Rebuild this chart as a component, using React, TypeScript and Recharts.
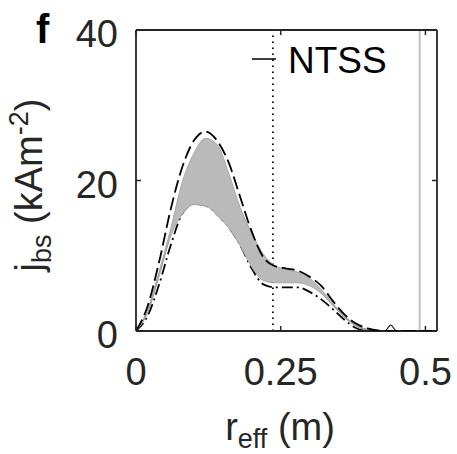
import {
    ComposedChart,
    Area,
    Line,
    XAxis,
    YAxis,
    ReferenceLine,
    Legend,
} from 'recharts'

// r_eff (m) sample points
const rEff = [0, 0.02, 0.04, 0.06, 0.08, 0.1, 0.12, 0.14, 0.16, 0.18, 0.2, 0.22, 0.24, 0.26, 0.28, 0.3, 0.32, 0.34, 0.36, 0.38, 0.4, 0.42, 0.43, 0.44, 0.45, 0.46, 0.48, 0.5, 0.52]
// upper dashed profile
const upperDashed = [0, 3.3, 9.2, 16.2, 21.8, 25.3, 26.5, 25.3, 22.4, 17.8, 13.2, 9.8, 8.6, 8.3, 8.0, 7.2, 6.0, 4.0, 2.2, 1.0, 0.35, 0.05, 0, 0, 0, 0, 0, 0, 0]
// lower dash-dot profile
const lowerDashDot = [0, 2.0, 6.2, 11.4, 15.6, 16.9, 16.7, 15.5, 13.8, 11.4, 8.3, 6.2, 5.8, 5.8, 5.8, 5.2, 4.2, 2.9, 1.5, 0.4, 0, 0, 0, 0, 0, 0, 0, 0, 0]
// grey spread of profiles
const bandLow = [0, 2.4, 7.3, 12.6, 15.5, 16.8, 16.6, 15.4, 13.7, 11.3, 8.5, 6.7, 6.4, 6.4, 6.4, 6.0, 5.0, 3.4, 1.8, 0.7, 0.15, 0, 0, 0, 0, 0, 0, 0, 0]
const bandHigh = [0, 2.8, 7.9, 13.6, 19.8, 23.6, 25.6, 24.8, 21.0, 16.4, 13.0, 10.2, 8.7, 8.2, 7.8, 7.0, 5.5, 3.7, 2.0, 0.8, 0.2, 0, 0, 0, 0, 0, 0, 0, 0]
// NTSS (solid)
const ntss = [0, 2.6, 7.6, 13.0, 17.5, 20.0, 21.0, 20.0, 17.5, 14.0, 10.5, 8.2, 7.3, 7.1, 7.0, 6.4, 5.2, 3.5, 1.9, 0.75, 0.15, 0, 0, 0.8, 0, 0, 0, 0, 0]

const xTicks = [0, 0.25, 0.5]
const yTicks = [0, 20, 40]
const xDomain = [0, 0.52]
const yDomain = [0, 40]
const separatrixR = 0.2365
const edgeR = 0.49

const data = rEff.map((r, i) => ({
    r,
    dashed: upperDashed[i],
    dashdot: lowerDashDot[i],
    band: [bandLow[i], bandHigh[i]],
    ntss: ntss[i],
}))

const FONT = '"Liberation Sans", Arial, Helvetica, sans-serif'
const INK = '#262626'

function BottomTick(props: any) {
    const { x, y, payload } = props
    return (
        <g>
            <line x1={x} y1={y} x2={x} y2={y - 5} stroke={INK} strokeWidth={1.5} />
            <text x={x} y={y + 54} textAnchor="middle" fontSize={38} fill={INK} fontFamily={FONT}>
                {payload.value}
            </text>
        </g>
    )
}

function TopTick(props: any) {
    const { x, y } = props
    return <line x1={x} y1={y} x2={x} y2={y + 5} stroke={INK} strokeWidth={1.5} />
}

function LeftTick(props: any) {
    const { x, y, payload } = props
    return (
        <g>
            <line x1={x} y1={y} x2={x + 5} y2={y} stroke={INK} strokeWidth={1.5} />
            <text x={x - 18} y={y + 17} textAnchor="end" fontSize={38} fill={INK} fontFamily={FONT}>
                {payload.value}
            </text>
        </g>
    )
}

function RightTick(props: any) {
    const { x, y } = props
    return <line x1={x} y1={y} x2={x - 5} y2={y} stroke={INK} strokeWidth={1.5} />
}

function YLabel() {
    return (
        <g fontFamily={FONT} fill={INK}>
            <text x={36} y={43} fontSize={40} fontWeight="bold" fill="#000">f</text>
            <text x={42} y={185} transform="rotate(-90, 42, 185)" textAnchor="middle" fontSize={38}>
                <tspan>j</tspan>
                <tspan dy={9} fontSize={27}>bs</tspan>
                <tspan dy={-9}> (kAm</tspan>
                <tspan dy={-14} fontSize={27}>-2</tspan>
                <tspan dy={14}>)</tspan>
            </text>
        </g>
    )
}

function XLabel() {
    return (
        <text x={280} y={440} textAnchor="middle" fontSize={38} fill={INK} fontFamily={FONT}>
            <tspan>r</tspan>
            <tspan dy={8} fontSize={27}>eff</tspan>
            <tspan dy={-8}> (m)</tspan>
        </text>
    )
}

function LegendBox() {
    return (
        <svg width={150} height={44}>
            <line x1={2} x2={26} y1={21} y2={21} stroke="#000" strokeWidth={1.5} />
            <text x={38} y={35} fontSize={37} fill="#000" fontFamily={FONT}>NTSS</text>
        </svg>
    )
}

export default function App() {
    return (
        <div style={{ position: 'absolute', left: 0, top: 0, background: '#fff' }}>
            <ComposedChart
                width={457}
                height={454}
                data={data}
                margin={{ top: 29, right: 19, left: 135, bottom: 122 }}
            >
                <XAxis
                    dataKey="r"
                    type="number"
                    domain={xDomain}
                    ticks={xTicks}
                    allowDataOverflow
                    height={1}
                    tickSize={0}
                    tickMargin={0}
                    tickLine={false}
                    tick={<BottomTick />}
                    axisLine={{ stroke: INK, strokeWidth: 1.8 }}
                    label={<XLabel />}
                />
                <XAxis
                    xAxisId="top"
                    orientation="top"
                    dataKey="r"
                    type="number"
                    domain={xDomain}
                    ticks={xTicks}
                    allowDataOverflow
                    height={1}
                    tickSize={0}
                    tickMargin={0}
                    tickLine={false}
                    tick={<TopTick />}
                    axisLine={{ stroke: INK, strokeWidth: 1.8 }}
                />
                <YAxis
                    type="number"
                    domain={yDomain}
                    ticks={yTicks}
                    allowDataOverflow
                    width={1}
                    tickSize={0}
                    tickMargin={0}
                    tickLine={false}
                    tick={<LeftTick />}
                    axisLine={{ stroke: INK, strokeWidth: 1.8 }}
                    label={<YLabel />}
                />
                <YAxis
                    yAxisId="right"
                    orientation="right"
                    type="number"
                    domain={yDomain}
                    ticks={yTicks}
                    allowDataOverflow
                    width={1}
                    tickSize={0}
                    tickMargin={0}
                    tickLine={false}
                    tick={<RightTick />}
                    axisLine={{ stroke: INK, strokeWidth: 1.8 }}
                />
                <Line
                    type="monotone"
                    dataKey="ntss"
                    stroke="#111"
                    strokeWidth={1.2}
                    dot={false}
                    isAnimationActive={false}
                    legendType="none"
                />
                <Line
                    type="monotone"
                    dataKey="dashdot"
                    stroke="#000"
                    strokeWidth={1.8}
                    strokeDasharray="11 4 2 4"
                    dot={false}
                    isAnimationActive={false}
                />
                <Area
                    type="monotone"
                    dataKey="band"
                    fill="#bababa"
                    fillOpacity={1}
                    stroke="#a6a6a6"
                    strokeWidth={1}
                    isAnimationActive={false}
                    zIndex={450}
                />
                <Line
                    type="monotone"
                    dataKey="dashed"
                    stroke="#000"
                    strokeWidth={1.8}
                    strokeDasharray="13 5"
                    dot={false}
                    isAnimationActive={false}
                    zIndex={500}
                />
                <ReferenceLine x={separatrixR} stroke="#000" strokeWidth={1.8} strokeDasharray="1.5 4.5" />
                <ReferenceLine x={edgeR} stroke="#bfbfbf" strokeWidth={2} />
                <Legend
                    layout="vertical"
                    align="center"
                    verticalAlign="middle"
                    content={<LegendBox />}
                    wrapperStyle={{ left: 250, top: 38, width: 150, height: 44 }}
                />
            </ComposedChart>
        </div>
    )
}
